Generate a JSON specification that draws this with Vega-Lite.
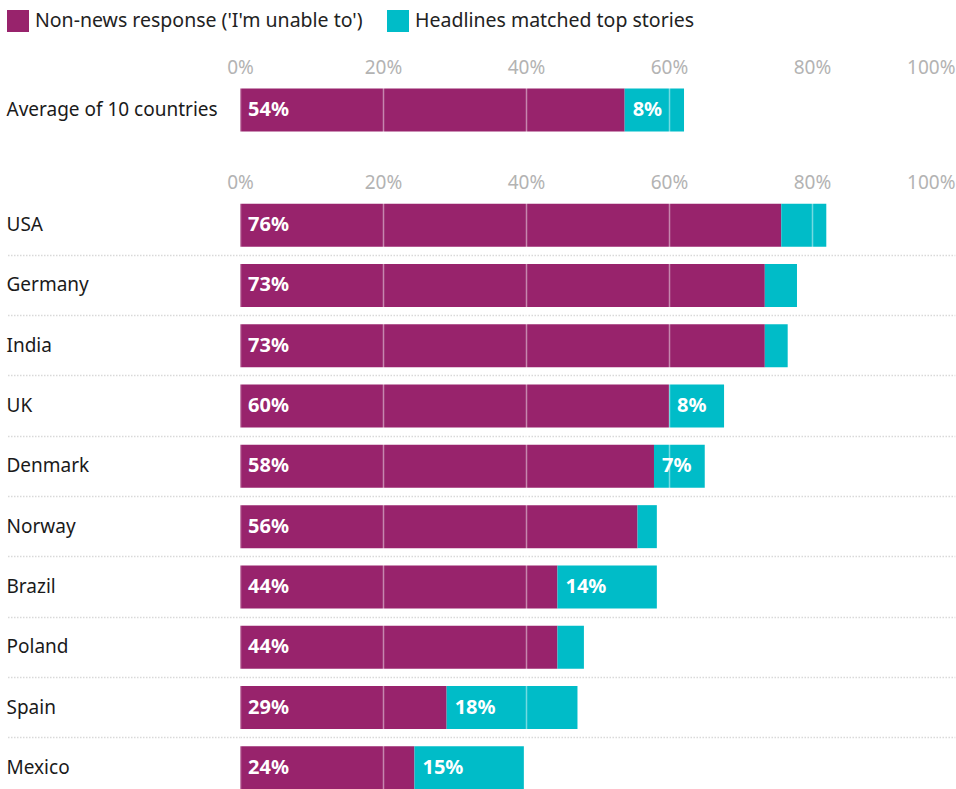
{
  "$schema": "https://vega.github.io/schema/vega-lite/v6.json",
  "padding": {"left": 5, "top": 10, "right": 1, "bottom": 0},
  "config": {
    "font": "Noto Sans",
    "view": {"stroke": null},
    "concat": {"spacing": 33}
  },
  "datasets": {
    "avg": [
      {"country": "Average of 10 countries", "category": "Non-news response ('I'm unable to')", "value": 53.8},
      {"country": "Average of 10 countries", "category": "Headlines matched top stories", "value": 8.3}
    ],
    "countries": [
      {"country": "USA", "category": "Non-news response ('I'm unable to')", "value": 75.7},
      {"country": "USA", "category": "Headlines matched top stories", "value": 6.3},
      {"country": "Germany", "category": "Non-news response ('I'm unable to')", "value": 73.4},
      {"country": "Germany", "category": "Headlines matched top stories", "value": 4.5},
      {"country": "India", "category": "Non-news response ('I'm unable to')", "value": 73.4},
      {"country": "India", "category": "Headlines matched top stories", "value": 3.2},
      {"country": "UK", "category": "Non-news response ('I'm unable to')", "value": 60.0},
      {"country": "UK", "category": "Headlines matched top stories", "value": 7.7},
      {"country": "Denmark", "category": "Non-news response ('I'm unable to')", "value": 57.9},
      {"country": "Denmark", "category": "Headlines matched top stories", "value": 7.1},
      {"country": "Norway", "category": "Non-news response ('I'm unable to')", "value": 55.6},
      {"country": "Norway", "category": "Headlines matched top stories", "value": 2.7},
      {"country": "Brazil", "category": "Non-news response ('I'm unable to')", "value": 44.4},
      {"country": "Brazil", "category": "Headlines matched top stories", "value": 13.9},
      {"country": "Poland", "category": "Non-news response ('I'm unable to')", "value": 44.4},
      {"country": "Poland", "category": "Headlines matched top stories", "value": 3.7},
      {"country": "Spain", "category": "Non-news response ('I'm unable to')", "value": 28.9},
      {"country": "Spain", "category": "Headlines matched top stories", "value": 18.3},
      {"country": "Mexico", "category": "Non-news response ('I'm unable to')", "value": 24.4},
      {"country": "Mexico", "category": "Headlines matched top stories", "value": 15.3}
    ]
  },
  "vconcat": [
    {
      "width": 715,
      "height": 60,
      "data": {"name": "avg"},
      "transform": [
        {"stack": "value", "groupby": ["country"], "as": ["x0", "x1"], "sort": [{"field": "category", "order": "descending"}]},
        {"calculate": "format(datum.value, '.0f') + '%'", "as": "label"}
      ],
      "encoding": {
        "y": {
          "field": "country", "type": "nominal", "title": null,
          "scale": {"paddingInner": 0, "paddingOuter": 0},
          "axis": {"domain": false, "ticks": false, "labelAlign": "left", "labelPadding": 234, "labelFontSize": 19, "labelColor": "#1a1a1a", "minExtent": 234, "maxExtent": 234, "labelLimit": 300}
        }
      },
      "layer": [
        {
          "mark": {"type": "bar", "height": {"band": 0.713}},
          "encoding": {
            "x": {
              "field": "x0", "type": "quantitative", "title": null,
              "scale": {"domain": [0, 100], "nice": false},
              "axis": {"orient": "top", "values": [0, 20, 40, 60, 80, 100], "labelExpr": "datum.value + '%'", "domain": false, "ticks": false, "labelPadding": 3, "labelFontSize": 19, "labelColor": "#b3b3b3", "grid": true, "gridColor": "#ffffff", "gridOpacity": 0.45, "gridWidth": 1.5, "zindex": 1,
                "labelAlign": {"condition": {"test": "datum.value == 100", "value": "right"}, "value": "center"}}
            },
            "x2": {"field": "x1"},
            "color": {
              "field": "category", "type": "nominal",
              "scale": {"domain": ["Non-news response ('I'm unable to')", "Headlines matched top stories"], "range": ["#98236C", "#00BCC8"]},
              "legend": {"title": null, "orient": "none", "legendX": -233, "legendY": -70, "direction": "horizontal", "symbolType": "square", "symbolSize": 484, "symbolStrokeWidth": 0, "symbolOpacity": 1, "labelFontSize": 19.5, "labelColor": "#222222", "labelOffset": 6, "columnPadding": 24, "labelLimit": 400}
            }
          }
        },
        {
          "mark": {"type": "text", "align": "left", "baseline": "middle", "dx": 8, "fontSize": 20, "fontWeight": "bold", "color": "#ffffff"},
          "transform": [{"filter": "datum.value >= 7"}],
          "encoding": {
            "x": {"field": "x0", "type": "quantitative"},
            "text": {"field": "label"}
          }
        }
      ]
    },
    {
      "width": 715,
      "height": 603,
      "data": {"name": "countries"},
      "transform": [
        {"stack": "value", "groupby": ["country"], "as": ["x0", "x1"], "sort": [{"field": "category", "order": "descending"}]},
        {"calculate": "format(datum.value, '.0f') + '%'", "as": "label"}
      ],
      "encoding": {
        "y": {
          "field": "country", "type": "nominal", "title": null,
          "sort": ["USA", "Germany", "India", "UK", "Denmark", "Norway", "Brazil", "Poland", "Spain", "Mexico"],
          "scale": {"paddingInner": 0, "paddingOuter": 0},
          "axis": {"domain": false, "ticks": true, "tickSize": 234, "tickColor": "#d9d9d9", "tickDash": [1.5, 1.5], "tickWidth": 1.5, "bandPosition": 1, "tickExtra": false,
            "grid": true, "gridColor": "#d9d9d9", "gridDash": [1.5, 1.5], "gridWidth": 1.5,
            "labelAlign": "left", "labelPadding": 0, "labelFontSize": 19, "labelColor": "#1a1a1a", "minExtent": 234, "maxExtent": 234}
        }
      },
      "layer": [
        {
          "mark": {"type": "bar", "height": {"band": 0.713}},
          "encoding": {
            "x": {
              "field": "x0", "type": "quantitative", "title": null,
              "scale": {"domain": [0, 100], "nice": false},
              "axis": {"orient": "top", "values": [0, 20, 40, 60, 80, 100], "labelExpr": "datum.value + '%'", "domain": false, "ticks": false, "labelPadding": 3, "labelFontSize": 19, "labelColor": "#b3b3b3", "grid": true, "gridColor": "#ffffff", "gridOpacity": 0.45, "gridWidth": 1.5, "zindex": 1,
                "labelAlign": {"condition": {"test": "datum.value == 100", "value": "right"}, "value": "center"}}
            },
            "x2": {"field": "x1"},
            "color": {
              "field": "category", "type": "nominal",
              "scale": {"domain": ["Non-news response ('I'm unable to')", "Headlines matched top stories"], "range": ["#98236C", "#00BCC8"]},
              "legend": null
            }
          }
        },
        {
          "mark": {"type": "text", "align": "left", "baseline": "middle", "dx": 8, "fontSize": 20, "fontWeight": "bold", "color": "#ffffff"},
          "transform": [{"filter": "datum.value >= 7"}],
          "encoding": {
            "x": {"field": "x0", "type": "quantitative"},
            "text": {"field": "label"}
          }
        }
      ]
    }
  ]
}
